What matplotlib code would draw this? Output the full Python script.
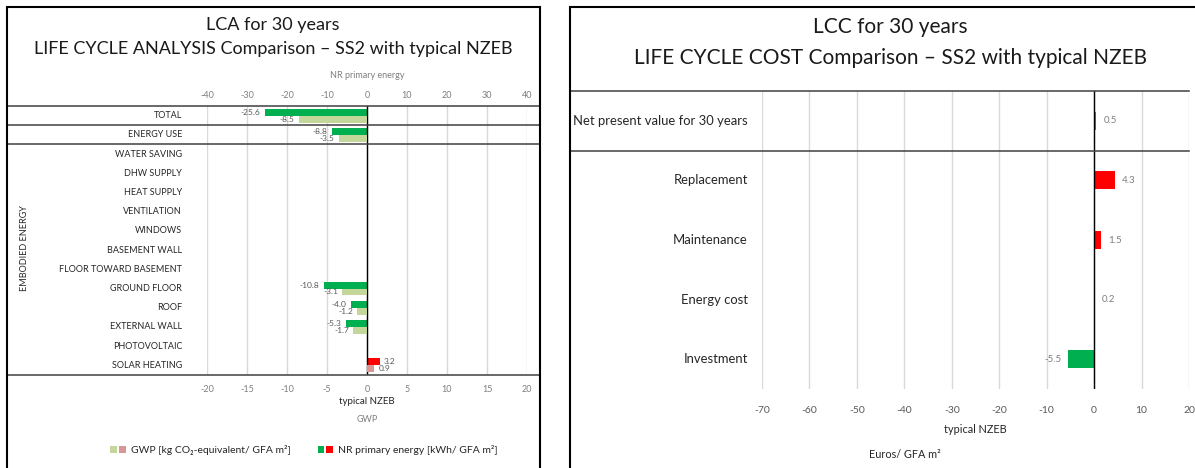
import matplotlib
matplotlib.use("Agg")
import matplotlib.pyplot as plt
import matplotlib.transforms as mtransforms
from matplotlib.patches import Patch, Rectangle
from matplotlib.legend_handler import HandlerTuple

plt.rcParams['font.family'] = ['Lato', 'DejaVu Sans']
plt.rcParams['axes.unicode_minus'] = False

# ---------------- data ----------------
lca_categories = ["TOTAL", "ENERGY USE", "WATER SAVING", "DHW SUPPLY", "HEAT SUPPLY",
                  "VENTILATION", "WINDOWS", "BASEMENT WALL", "FLOOR TOWARD BASEMENT",
                  "GROUND FLOOR", "ROOF", "EXTERNAL WALL", "PHOTOVOLTAIC", "SOLAR HEATING"]
nr_primary_energy = [-25.6, -8.8, 0, 0, 0, 0, 0, 0, 0, -10.8, -4.0, -5.3, 0, 3.2]
gwp = [-8.5, -3.5, 0, 0, 0, 0, 0, 0, 0, -3.1, -1.2, -1.7, 0, 0.9]
nr_ticks = [-40, -30, -20, -10, 0, 10, 20, 30, 40]
gwp_ticks = [-20, -15, -10, -5, 0, 5, 10, 15, 20]

lcc_categories = ["Net present value for 30 years", "Replacement", "Maintenance",
                  "Energy cost", "Investment"]
lcc_values = [0.5, 4.3, 1.5, 0.2, -5.5]
lcc_ticks = [-70, -60, -50, -40, -30, -20, -10, 0, 10, 20]

# ---------------- styling ----------------
GREEN = "#00B050"
RED = "#FF0000"
LGREEN = "#C4D79B"
PINK = "#DA9694"
GRID = "#D9D9D9"
TICKC = "#7F7F7F"
LINEC = "#404040"

W, H = 1195, 468
fig = plt.figure(figsize=(W / 100, H / 100), dpi=100)


def fx(px):
    return px / W


def fy(py):
    return 1 - py / H


def axes_rect(x0, y0, x1, y1):
    return [fx(x0), fy(y1), (x1 - x0) / W, (y1 - y0) / H]


# panel borders
fig.add_artist(Rectangle((fx(7), fy(500)), fx(540) - fx(7), fy(7) - fy(500),
                         transform=fig.transFigure, fill=False, ec="black", lw=1.5))
fig.add_artist(Rectangle((fx(570), fy(500)), fx(1230) - fx(570), fy(7) - fy(500),
                         transform=fig.transFigure, fill=False, ec="black", lw=1.5))

# ================= LEFT: LCA =================
ax = fig.add_axes(axes_rect(207, 106, 527, 375))
ax2 = ax.twiny()
n = len(lca_categories)
ys = list(range(n))
bh = 0.36
ax.set_xlim(-40, 40)
ax2.set_xlim(-20, 20)
ax.set_ylim(n - 0.5, -0.5)

nr_colors = [GREEN if v < 0 else RED for v in nr_primary_energy]
gwp_colors = [LGREEN if v < 0 else PINK for v in gwp]
b1 = ax.barh([y - bh / 2 for y in ys], nr_primary_energy, height=bh, color=nr_colors, zorder=3)
b2 = ax2.barh([y + bh / 2 for y in ys], gwp, height=bh, color=gwp_colors, zorder=3)
ax.bar_label(b1, labels=[f"{v:.1f}" if v != 0 else "" for v in nr_primary_energy],
             padding=3, fontsize=6, color="#595959")
ax2.bar_label(b2, labels=[f"{v:.1f}" if v != 0 else "" for v in gwp],
              padding=3, fontsize=6, color="#595959")

ax.set_xticks(nr_ticks)
ax.xaxis.tick_top()
ax.xaxis.set_label_position('top')
ax.tick_params(axis='x', length=0, pad=4, labelsize=6.5, labelcolor=TICKC)
ax.set_xlabel("NR primary energy", fontsize=6.5, color=TICKC, labelpad=10)
ax.set_yticks([])
ax.grid(axis='x', color=GRID, lw=1.0, zorder=0)
ax.set_axisbelow(True)

ax2.set_xticks(gwp_ticks)
ax2.xaxis.tick_bottom()
ax2.xaxis.set_label_position('bottom')
ax2.tick_params(axis='x', length=0, pad=7, labelsize=6.5, labelcolor=TICKC)
ax2.set_xlabel("typical NZEB", fontsize=7, color="#262626", labelpad=2)
ax2.text(0.5, -0.165, "GWP", transform=ax2.transAxes, ha="center", va="center",
         fontsize=6.5, color=TICKC)
for a in (ax, ax2):
    for s in a.spines.values():
        s.set_visible(False)
ax.axvline(0, color="black", lw=1.0, zorder=4)

# category labels
bt = mtransforms.blended_transform_factory(fig.transFigure, ax.transData)
for y, c in zip(ys, lca_categories):
    ax.text(fx(182), y, c, transform=bt, ha="right", va="center", fontsize=6.5, color="#262626")
fig.text(fx(25), fy(248), "EMBODIED ENERGY", rotation=90, ha="center", va="center",
         fontsize=6.5, color="#262626")

# horizontal separators
for yy in (-0.5, 0.5, 1.5, n - 0.5):
    ax.plot([fx(7), fx(540)], [yy, yy], transform=bt, color=LINEC, lw=1.1, clip_on=False, zorder=5)

# titles
fig.text(fx(273), fy(25), "LCA for 30 years", ha="center", va="center", fontsize=13, color="#1a1a1a")
fig.text(fx(273), fy(49), "LIFE CYCLE ANALYSIS Comparison – SS2 with typical NZEB",
         ha="center", va="center", fontsize=13, color="#1a1a1a")

# legend
h1 = (Patch(facecolor=LGREEN), Patch(facecolor=PINK))
h2 = (Patch(facecolor=GREEN), Patch(facecolor=RED))
fig.legend([h1, h2], ["GWP [kg CO₂-equivalent/ GFA m²]", "NR primary energy [kWh/ GFA m²]"],
           handler_map={tuple: HandlerTuple(ndivide=None, pad=0.15)},
           loc="center", bbox_to_anchor=(fx(304), fy(450)), ncol=2, frameon=False,
           fontsize=7.5, handlelength=1.45, handleheight=0.7, columnspacing=2.6,
           handletextpad=0.5, labelcolor="#262626")

# ================= RIGHT: LCC =================
axr = fig.add_axes(axes_rect(762, 91, 1189, 389))
m = len(lcc_categories)
yr = list(range(m))
axr.set_xlim(-70, 20)
axr.set_ylim(m - 0.5, -0.5)
lcc_colors = [GREEN, RED, RED, "none", GREEN]
br = axr.barh(yr, lcc_values, height=0.3, color=lcc_colors, zorder=3)
axr.bar_label(br, labels=[f"{v:.1f}" for v in lcc_values], padding=5, fontsize=7, color="#7F7F7F")
axr.set_xticks(lcc_ticks)
axr.tick_params(axis='x', length=0, pad=12, labelsize=7.5, labelcolor="#595959")
axr.set_xlabel("typical NZEB", fontsize=7.8, color="#262626", labelpad=7)
axr.set_yticks([])
axr.grid(axis='x', color=GRID, lw=1.0, zorder=0)
axr.set_axisbelow(True)
for s in axr.spines.values():
    s.set_visible(False)
axr.axvline(0, color="black", lw=1.0, zorder=4)
btr = mtransforms.blended_transform_factory(fig.transFigure, axr.transData)
for y, c in zip(yr, lcc_categories):
    axr.text(fx(748), y, c, transform=btr, ha="right", va="center", fontsize=9.4, color="#262626")
for yy in (-0.5, 0.5):
    axr.plot([fx(570), fx(1189)], [yy, yy], transform=btr, color=LINEC, lw=1.1, clip_on=False, zorder=5)
fig.text(fx(905), fy(455), "Euros/ GFA m²", ha="center", va="center", fontsize=7.8, color="#262626")
fig.text(fx(890), fy(27), "LCC for 30 years", ha="center", va="center", fontsize=15, color="#1a1a1a")
fig.text(fx(891), fy(58), "LIFE CYCLE COST Comparison – SS2 with typical NZEB",
         ha="center", va="center", fontsize=15, color="#1a1a1a")

fig.savefig("out.png", dpi=100)
